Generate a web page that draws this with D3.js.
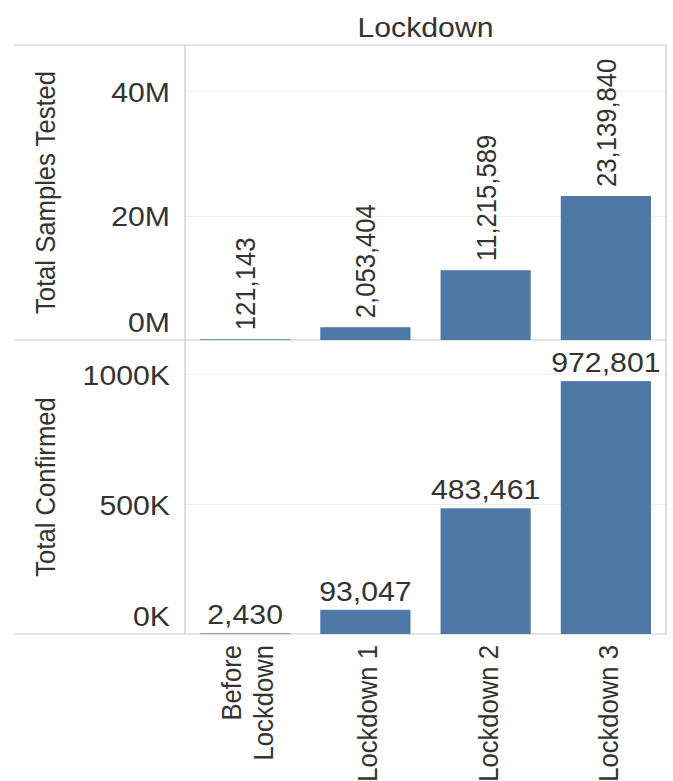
<!DOCTYPE html>
<html>
<head>
<meta charset="utf-8">
<script src="https://cdn.jsdelivr.net/npm/d3@7"></script>
<style>
  html, body { margin: 0; padding: 0; background: #fff; }
  svg { display: block; }
  text { font-family: "Liberation Sans", Arial, sans-serif; fill: #333; }
</style>
</head>
<body>
<script>
// Lockdown phases and the two measures shown per phase
const categories = ["Before Lockdown", "Lockdown 1", "Lockdown 2", "Lockdown 3"];
const samplesTested = [121143, 2053404, 11215589, 23139840];
const totalConfirmed = [2430, 93047, 483461, 972801];
const samplesTicks = [0, 20000000, 40000000];
const confirmedTicks = [0, 500000, 1000000];

const W = 673, H = 781;
const FONT = 27;
const BAR = "#4e79a7", RULE = "#c9c9c9", GRID = "#efefef";
// text stretch: horizontal labels are slightly wide, vertical labels slightly short
const HS = "scale(1.12,1)";
const VS = "scale(1.05,0.95) rotate(-90)";

const frameL = 14, plotL = 185, plotR = 666;
const paneTop = 45, paneMid = 340, paneBottom = 634;

const svg = d3.select("body").append("svg").attr("width", W).attr("height", H);

const x = d3.scaleBand().domain(categories).range([plotL, plotR])
  .paddingInner(0.25).paddingOuter(0.125);

const yTop = d3.scaleLinear().domain([0, 47400000]).range([paneMid, paneTop]);
const yBot = d3.scaleLinear().domain([0, 1131000]).range([paneBottom, paneMid]);

const fmt = d3.format(",");

// gridlines
function grid(scale, ticks) {
  svg.append("g").selectAll("line").data(ticks.filter(t => t > 0)).join("line")
    .attr("x1", plotL).attr("x2", plotR)
    .attr("y1", d => Math.round(scale(d)) + 0.5).attr("y2", d => Math.round(scale(d)) + 0.5)
    .attr("stroke", GRID).attr("stroke-width", 1);
}
grid(yTop, samplesTicks);
grid(yBot, confirmedTicks);

// frame lines
const frame = svg.append("g").attr("stroke", RULE).attr("stroke-width", 1.2);
frame.append("line").attr("x1", frameL).attr("x2", plotR).attr("y1", paneTop).attr("y2", paneTop);
frame.append("line").attr("x1", frameL).attr("x2", plotR).attr("y1", paneMid).attr("y2", paneMid);
frame.append("line").attr("x1", frameL).attr("x2", plotR).attr("y1", paneBottom).attr("y2", paneBottom);
frame.append("line").attr("x1", plotL).attr("x2", plotL).attr("y1", paneTop).attr("y2", paneBottom);
frame.append("line").attr("x1", plotR).attr("x2", plotR).attr("y1", paneTop).attr("y2", paneBottom);

// bars
function bars(values, scale) {
  svg.append("g").selectAll("rect").data(values).join("rect")
    .attr("x", (d, i) => x(categories[i]))
    .attr("width", x.bandwidth())
    .attr("y", d => scale(d))
    .attr("height", d => scale(0) - scale(d))
    .attr("fill", BAR);
}
bars(samplesTested, yTop);
bars(totalConfirmed, yBot);

// value labels: vertical above the tested bars, horizontal above the confirmed bars
svg.append("g").selectAll("text").data(samplesTested).join("text")
  .attr("transform", (d, i) => `translate(${x(categories[i]) + x.bandwidth() / 2 + 10},${yTop(d) - 9}) ${VS}`)
  .attr("text-anchor", "start")
  .attr("font-size", FONT)
  .text(d => fmt(d));

svg.append("g").selectAll("text").data(totalConfirmed).join("text")
  .attr("transform", (d, i) => `translate(${x(categories[i]) + x.bandwidth() / 2},${Math.min(yBot(d) - 9, paneBottom - 2)}) ${HS}`)
  .attr("text-anchor", "middle")
  .attr("font-size", FONT)
  .text(d => fmt(d));

// y axes
function yAxis(scale, ticks, format, lo, hi) {
  const g = svg.append("g").attr("transform", `translate(170,0)`)
    .call(d3.axisLeft(scale).tickValues(ticks).tickFormat(format).tickSize(0).tickPadding(0));
  g.select(".domain").remove();
  g.selectAll("text")
    .attr("x", 0).attr("dy", null)
    .attr("fill", "#333").attr("font-size", FONT)
    .attr("font-family", "Liberation Sans, Arial, sans-serif")
    .attr("text-anchor", "end")
    .attr("transform", function(d) {
      let base = scale(d) + 10;
      base = Math.min(base, hi - 9);
      base = Math.max(base, lo + 22);
      return `translate(0,${base - scale(d)}) ${HS}`;
    });
}
yAxis(yTop, samplesTicks, d => d / 1e6 + "M", paneTop, paneMid);
yAxis(yBot, confirmedTicks, d => d / 1e3 + "K", paneMid, paneBottom);

// measure titles
svg.append("text")
  .attr("transform", `translate(55,${(paneTop + paneMid) / 2}) ${VS}`)
  .attr("text-anchor", "middle").attr("font-size", FONT)
  .text("Total Samples Tested");
svg.append("text")
  .attr("transform", `translate(55,${(paneMid + paneBottom) / 2}) ${VS}`)
  .attr("text-anchor", "middle").attr("font-size", FONT)
  .text("Total Confirmed");

// column header
svg.append("text")
  .attr("transform", `translate(${(plotL + plotR) / 2},37) ${HS}`)
  .attr("text-anchor", "middle").attr("font-size", FONT)
  .text("Lockdown");

// category labels, wrapped when long
function wrap(s) {
  return s.length > 12 ? s.split(" ") : [s];
}
const cat = svg.append("g").selectAll("g").data(categories).join("g");
cat.each(function(c) {
  const lines = wrap(c);
  const cx = x(c) + x.bandwidth() / 2;
  d3.select(this).selectAll("text").data(lines).join("text")
    .attr("transform", (l, i) => `translate(${cx + 12 + (i - (lines.length - 1) / 2) * 32},645) ${VS}`)
    .attr("text-anchor", "end").attr("font-size", FONT)
    .text(l => l);
});
</script>
</body>
</html>
